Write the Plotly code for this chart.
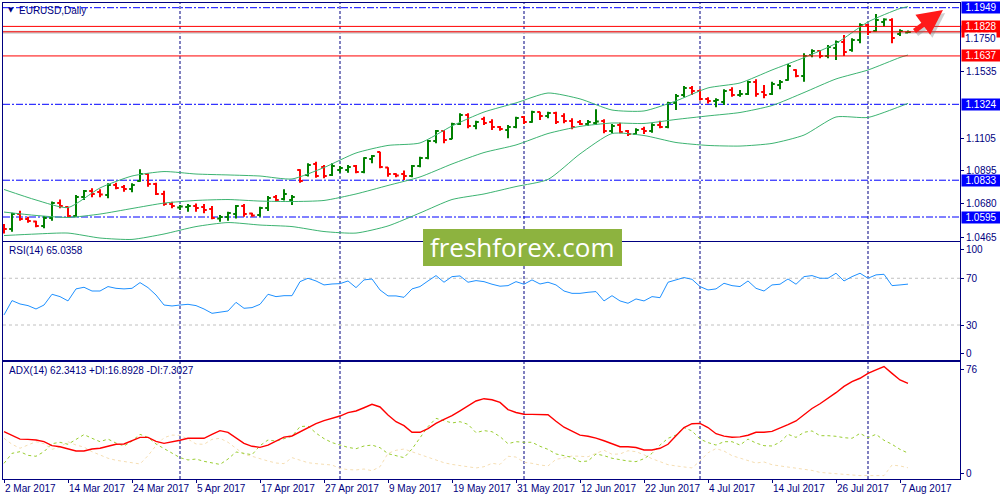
import plotly.graph_objects as go
from plotly.subplots import make_subplots
import pandas as pd

# trading days on the chart (2 Mar 2017 .. 8 Aug 2017)
dates = pd.bdate_range("2017-03-02", "2017-08-08")
days = [d.strftime("%Y-%m-%d") for d in dates]

opens = [
    1.0537, 1.0517, 1.0614, 1.0582, 1.0566, 1.0537, 1.0588, 1.0685, 1.0660, 1.0601,
    1.0724, 1.0763, 1.0757, 1.0737, 1.0802, 1.0789, 1.0776, 1.0828, 1.0873, 1.0808,
    1.0744, 1.0679, 1.0656, 1.0660, 1.0666, 1.0660, 1.0647, 1.0585, 1.0595, 1.0614,
    1.0666, 1.0618, 1.0608, 1.0653, 1.0724, 1.0711, 1.0705, 1.0899, 1.0867, 1.0938,
    1.0918, 1.0867, 1.0899, 1.0899, 1.0925, 1.0886, 1.0970, 1.1016, 1.0915, 1.0873,
    1.0873, 1.0860, 1.0925, 1.0977, 1.1087, 1.1151, 1.1100, 1.1197, 1.1255, 1.1184,
    1.1229, 1.1210, 1.1177, 1.1158, 1.1177, 1.1242, 1.1210, 1.1274, 1.1249, 1.1268,
    1.1249, 1.1216, 1.1210, 1.1197, 1.1203, 1.1216, 1.1151, 1.1190, 1.1151, 1.1132,
    1.1164, 1.1151, 1.1190, 1.1177, 1.1333, 1.1384, 1.1430, 1.1410, 1.1359, 1.1346,
    1.1339, 1.1417, 1.1384, 1.1391, 1.1468, 1.1404, 1.1391, 1.1449, 1.1481, 1.1546,
    1.1507, 1.1643, 1.1669, 1.1637, 1.1688, 1.1727, 1.1675, 1.1740, 1.1837, 1.1798,
    1.1857, 1.1869, 1.1779, 1.1788,
]
highs = [
    1.0550, 1.0623, 1.0636, 1.0597, 1.0571, 1.0601, 1.0696, 1.0709, 1.0663, 1.0737,
    1.0770, 1.0781, 1.0774, 1.0813, 1.0817, 1.0802, 1.0813, 1.0904, 1.0878, 1.0817,
    1.0765, 1.0694, 1.0672, 1.0679, 1.0683, 1.0679, 1.0666, 1.0608, 1.0629, 1.0672,
    1.0679, 1.0623, 1.0661, 1.0731, 1.0737, 1.0774, 1.0737, 1.0904, 1.0942, 1.0953,
    1.0931, 1.0942, 1.0925, 1.0931, 1.0931, 1.0981, 1.0996, 1.1017, 1.0917, 1.0878,
    1.0895, 1.0931, 1.0985, 1.1093, 1.1158, 1.1158, 1.1205, 1.1266, 1.1266, 1.1218,
    1.1244, 1.1227, 1.1184, 1.1190, 1.1244, 1.1249, 1.1283, 1.1276, 1.1276, 1.1276,
    1.1266, 1.1234, 1.1223, 1.1223, 1.1292, 1.1227, 1.1197, 1.1205, 1.1158, 1.1169,
    1.1179, 1.1201, 1.1218, 1.1341, 1.1391, 1.1443, 1.1443, 1.1421, 1.1370, 1.1363,
    1.1421, 1.1434, 1.1417, 1.1477, 1.1486, 1.1449, 1.1470, 1.1481, 1.1585, 1.1551,
    1.1654, 1.1680, 1.1675, 1.1708, 1.1736, 1.1772, 1.1751, 1.1848, 1.1844, 1.1908,
    1.1880, 1.1880, 1.1809, 1.1802,
]
lows = [
    1.0489, 1.0500, 1.0571, 1.0558, 1.0528, 1.0522, 1.0571, 1.0651, 1.0593, 1.0593,
    1.0705, 1.0722, 1.0722, 1.0716, 1.0774, 1.0759, 1.0755, 1.0823, 1.0791, 1.0737,
    1.0668, 1.0651, 1.0640, 1.0629, 1.0629, 1.0619, 1.0580, 1.0564, 1.0571, 1.0586,
    1.0597, 1.0597, 1.0597, 1.0634, 1.0694, 1.0702, 1.0672, 1.0817, 1.0857, 1.0849,
    1.0845, 1.0860, 1.0882, 1.0882, 1.0878, 1.0878, 1.0942, 1.0910, 1.0856, 1.0852,
    1.0834, 1.0852, 1.0917, 1.0968, 1.1072, 1.1072, 1.1098, 1.1190, 1.1169, 1.1162,
    1.1190, 1.1158, 1.1153, 1.1104, 1.1169, 1.1197, 1.1205, 1.1223, 1.1234, 1.1197,
    1.1201, 1.1162, 1.1190, 1.1184, 1.1190, 1.1137, 1.1137, 1.1137, 1.1119, 1.1126,
    1.1132, 1.1140, 1.1169, 1.1169, 1.1287, 1.1370, 1.1384, 1.1348, 1.1330, 1.1305,
    1.1320, 1.1373, 1.1373, 1.1384, 1.1373, 1.1363, 1.1384, 1.1421, 1.1477, 1.1499,
    1.1470, 1.1628, 1.1622, 1.1622, 1.1611, 1.1637, 1.1664, 1.1719, 1.1772, 1.1794,
    1.1826, 1.1719, 1.1766, 1.1786,
]
closes = [
    1.0517, 1.0614, 1.0582, 1.0569, 1.0537, 1.0588, 1.0685, 1.0666, 1.0601, 1.0724,
    1.0763, 1.0744, 1.0741, 1.0802, 1.0783, 1.0776, 1.0802, 1.0873, 1.0808, 1.0744,
    1.0679, 1.0666, 1.0663, 1.0666, 1.0653, 1.0640, 1.0588, 1.0595, 1.0621, 1.0666,
    1.0614, 1.0605, 1.0653, 1.0718, 1.0705, 1.0744, 1.0724, 1.0828, 1.0931, 1.0860,
    1.0860, 1.0925, 1.0912, 1.0918, 1.0886, 1.0977, 1.0990, 1.0918, 1.0873, 1.0864,
    1.0860, 1.0925, 1.0977, 1.1087, 1.1151, 1.1093, 1.1197, 1.1255, 1.1184, 1.1210,
    1.1203, 1.1177, 1.1164, 1.1177, 1.1236, 1.1210, 1.1274, 1.1249, 1.1268, 1.1210,
    1.1216, 1.1177, 1.1197, 1.1210, 1.1213, 1.1151, 1.1184, 1.1145, 1.1132, 1.1158,
    1.1151, 1.1190, 1.1177, 1.1333, 1.1378, 1.1430, 1.1410, 1.1359, 1.1346, 1.1352,
    1.1410, 1.1384, 1.1391, 1.1468, 1.1391, 1.1384, 1.1456, 1.1468, 1.1572, 1.1507,
    1.1637, 1.1669, 1.1637, 1.1695, 1.1727, 1.1663, 1.1740, 1.1837, 1.1792, 1.1869,
    1.1873, 1.1753, 1.1798, 1.1791,
]

# Bollinger bands
bb_bars = list(range(0, 113, 4)) + [113]
bb_upper = [1.0773, 1.0705, 1.0656, 1.0783, 1.0860, 1.0889, 1.0873, 1.0867, 1.0860, 1.0841,
            1.0915, 1.1009, 1.1058, 1.1074, 1.1184, 1.1274, 1.1333, 1.1397, 1.1359, 1.1287,
            1.1281, 1.1346, 1.1430, 1.1462, 1.1546, 1.1626, 1.1718, 1.1857, 1.1944, 1.1956]
bb_mid = [1.0627, 1.0605, 1.0592, 1.0614, 1.0650, 1.0685, 1.0702, 1.0708, 1.0698, 1.0695,
          1.0702, 1.0744, 1.0799, 1.0854, 1.0938, 1.1012, 1.1061, 1.1135, 1.1181, 1.1203,
          1.1200, 1.1226, 1.1249, 1.1271, 1.1316, 1.1400, 1.1488, 1.1546, 1.1627, 1.1643]
bb_lower = [1.0475, 1.0485, 1.0491, 1.0459, 1.0450, 1.0485, 1.0533, 1.0559, 1.0543, 1.0533,
            1.0501, 1.0491, 1.0537, 1.0621, 1.0708, 1.0744, 1.0792, 1.0838, 1.1003, 1.1135,
            1.1122, 1.1077, 1.1058, 1.1054, 1.1071, 1.1125, 1.1242, 1.1239, 1.1310, 1.1330]

rsi = [
    38.6, 50.9, 48.0, 46.6, 43.7, 47.1, 56.3, 54.3, 50.6, 60.9,
    62.3, 59.1, 59.1, 62.9, 61.4, 60.9, 61.4, 66.3, 62.0, 55.7,
    47.1, 46.3, 47.1, 47.7, 46.6, 43.7, 40.0, 40.9, 42.0, 49.4,
    44.3, 44.9, 47.7, 56.3, 54.3, 55.1, 55.1, 67.1, 70.0, 67.7,
    64.3, 65.1, 65.4, 67.7, 62.0, 68.6, 69.4, 60.0, 54.9, 54.9,
    53.7, 60.9, 62.9, 67.7, 72.3, 66.6, 71.4, 72.0, 66.6, 68.0,
    67.1, 64.9, 63.2, 63.7, 67.1, 64.9, 68.6, 65.1, 66.6, 64.3,
    59.1, 57.1, 57.1, 58.0, 58.6, 50.6, 55.1, 50.6, 48.6, 52.3,
    50.6, 54.3, 53.4, 66.6, 68.6, 70.6, 69.1, 62.9, 60.0, 60.9,
    65.7, 63.7, 62.9, 67.7, 61.4, 59.1, 64.3, 64.9, 69.4, 64.9,
    71.4, 72.3, 70.0, 70.0, 74.3, 67.7, 71.4, 74.3, 70.0, 72.9,
    73.4, 63.7, 64.3, 65.0,
]

adx = [
    30.8, 28.4, 26.0, 25.8, 25.4, 24.3, 21.7, 21.0, 19.7, 18.2,
    18.2, 19.5, 20.0, 21.5, 22.6, 22.8, 24.7, 27.1, 27.1, 24.5,
    23.2, 24.1, 25.2, 26.5, 26.5, 26.5, 29.1, 31.5, 30.4, 26.9,
    23.2, 21.3, 20.6, 22.1, 24.5, 27.3, 28.0, 30.8, 33.6, 36.0,
    38.0, 39.3, 41.0, 43.2, 44.3, 46.4, 48.6, 46.9, 41.7, 37.3,
    34.7, 30.4, 30.4, 32.8, 36.2, 38.8, 41.2, 44.3, 47.7, 50.8,
    52.3, 51.6, 49.9, 45.2, 43.3, 42.2, 42.1, 42.1, 41.8, 37.6,
    33.7, 31.2, 28.6, 27.8, 26.6, 24.9, 22.9, 21.0, 21.0, 20.5,
    18.9, 18.9, 20.0, 22.6, 28.2, 33.5, 36.0, 36.2, 33.5, 29.5,
    27.9, 27.2, 27.4, 28.5, 30.4, 30.4, 31.0, 33.0, 35.4, 37.8,
    41.7, 45.9, 49.0, 52.4, 56.2, 60.3, 63.4, 65.6, 68.8, 71.0,
    73.2, 68.8, 64.5, 62.3,
]
plus_di = [
    10.2, 16.7, 17.8, 15.4, 14.8, 17.8, 23.0, 23.9, 22.6, 26.0,
    28.9, 26.5, 24.3, 26.0, 23.4, 21.5, 24.7, 29.1, 27.1, 22.8,
    19.7, 16.5, 13.9, 12.4, 13.0, 11.5, 10.4, 9.5, 13.0, 17.6,
    16.7, 15.8, 21.7, 25.4, 24.7, 26.3, 27.8, 34.1, 34.5, 29.9,
    26.3, 23.7, 21.9, 20.6, 19.7, 21.5, 22.1, 20.4, 16.5, 15.0,
    13.9, 19.5, 26.5, 34.1, 39.5, 37.8, 36.5, 37.3, 35.6, 30.2,
    31.5, 30.8, 27.6, 23.0, 24.3, 23.9, 23.9, 21.3, 19.3, 16.3,
    15.4, 14.1, 11.3, 11.7, 16.3, 15.2, 13.5, 12.4, 11.7, 11.3,
    13.2, 16.7, 22.1, 26.5, 28.6, 33.4, 31.3, 26.0, 23.7, 22.1,
    24.3, 24.3, 22.1, 26.0, 23.4, 21.7, 21.5, 23.9, 29.1, 27.1,
    30.4, 31.3, 28.2, 28.2, 27.8, 26.9, 26.5, 29.7, 26.9, 29.1,
    25.2, 22.6, 19.3, 16.9,
]
minus_di = [
    26.5, 22.6, 20.0, 21.9, 24.3, 23.0, 19.3, 20.8, 24.3, 22.1,
    20.8, 17.8, 15.6, 13.5, 12.2, 11.5, 10.9, 9.8, 15.2, 21.7,
    26.9, 28.6, 28.4, 26.0, 22.8, 22.6, 25.8, 26.5, 23.9, 20.0,
    16.1, 14.8, 13.0, 11.7, 10.4, 10.0, 13.9, 12.2, 10.6, 10.0,
    9.5, 9.1, 6.9, 6.1, 5.9, 6.5, 5.4, 8.0, 16.7, 18.7,
    19.5, 17.8, 15.6, 13.9, 12.4, 10.6, 9.5, 8.7, 7.8, 7.2,
    8.0, 10.2, 9.5, 14.8, 14.3, 10.9, 10.2, 9.1, 8.5, 12.8,
    13.7, 15.0, 14.8, 14.5, 16.7, 18.7, 16.1, 16.3, 18.4, 17.8,
    15.8, 13.2, 11.3, 9.3, 8.5, 7.6, 7.2, 11.7, 17.1, 19.8,
    18.2, 15.2, 13.5, 11.7, 10.4, 11.1, 9.3, 8.5, 7.8, 6.9,
    6.3, 5.6, 4.3, 3.9, 3.5, 2.8, 2.4, 2.2, 2.2, 2.2,
    2.2, 9.1, 8.5, 7.3,
]

blue_levels = [1.1949, 1.1324, 1.0833, 1.0595]
red_levels = [1.1793, 1.1828, 1.1637]
bid = 1.1790
price_ticks = [1.1535, 1.1105, 1.0895, 1.0680, 1.0465]

NAVY = "#000080"
FONT = "Liberation Sans"

fig = make_subplots(rows=3, cols=1, shared_xaxes=True, vertical_spacing=0.004)

fig.add_trace(go.Ohlc(
    x=days, open=opens, high=highs, low=lows, close=closes,
    increasing=dict(line=dict(color="#008000", width=2)),
    decreasing=dict(line=dict(color="#ff0000", width=2)),
    tickwidth=0.35, showlegend=False, hoverinfo="skip",
), row=1, col=1)

bb_x = [days[i] for i in bb_bars]
for band in (bb_upper, bb_mid, bb_lower):
    fig.add_trace(go.Scatter(x=bb_x, y=band, mode="lines",
                             line=dict(color="#3cb371", width=1, shape="spline", smoothing=0.6),
                             showlegend=False, hoverinfo="skip"), row=1, col=1)

fig.add_trace(go.Scatter(x=days, y=rsi, mode="lines", line=dict(color="#1e90ff", width=1),
                         showlegend=False, hoverinfo="skip"), row=2, col=1)

fig.add_trace(go.Scatter(x=days, y=minus_di, mode="lines",
                         line=dict(color="#f5deb3", width=1, dash="3px,3px"),
                         showlegend=False, hoverinfo="skip"), row=3, col=1)
fig.add_trace(go.Scatter(x=days, y=plus_di, mode="lines",
                         line=dict(color="#9acd32", width=1, dash="3px,3px"),
                         showlegend=False, hoverinfo="skip"), row=3, col=1)
fig.add_trace(go.Scatter(x=days, y=adx, mode="lines", line=dict(color="#ff0000", width=1.4),
                         showlegend=False, hoverinfo="skip"), row=3, col=1)

# month separators
for i in range(1, len(dates)):
    if dates[i].month != dates[i - 1].month:
        fig.add_shape(type="line", xref="x", yref="paper", x0=days[i], x1=days[i], y0=0, y1=1,
                      line=dict(color=NAVY, width=1, dash="3px,2px"), layer="below")

for lv in blue_levels:
    fig.add_shape(type="line", xref="paper", yref="y", x0=0, x1=1, y0=lv, y1=lv,
                  line=dict(color="#0000ff", width=1, dash="7px,2px,2px,2px"), layer="below")
fig.add_shape(type="line", xref="paper", yref="y", x0=0, x1=1, y0=bid, y1=bid,
              line=dict(color="#d0d0d0", width=3), layer="below")
for lv in red_levels:
    fig.add_shape(type="line", xref="paper", yref="y", x0=0, x1=1, y0=lv, y1=lv,
                  line=dict(color="#ff0000", width=1))

for lv in (70, 30):
    fig.add_shape(type="line", xref="paper", yref="y2", x0=0, x1=1, y0=lv, y1=lv,
                  line=dict(color="#c0c0c0", width=1, dash="3px,3px"), layer="below")

# watermark
fig.add_shape(type="rect", xref="paper", yref="paper", x0=0.4389, x1=0.6468, y0=0.4475, y1=0.5252,
              fillcolor="#8db33f", line=dict(width=0), layer="above")
fig.add_annotation(text="freshforex.com", xref="paper", yref="paper", x=0.5428, y=0.4874,
                   showarrow=False, font=dict(family="Open Sans", size=26, color="white"))

# price boxes on the right axis
def price_box(price, color):
    fig.add_annotation(text=f"{price:.4f}", xref="paper", yref="y", x=1, y=price,
                       xanchor="left", yanchor="middle", xshift=1, showarrow=False,
                       width=38, height=11, borderpad=0, bgcolor=color,
                       font=dict(family=FONT, size=10, color="white"))

price_box(1.1793, "#ff0000")
price_box(1.1828, "#ff0000")
price_box(1.1637, "#ff0000")
for lv in blue_levels:
    price_box(lv, "#0000ff")
fig.add_annotation(text="1.1750", xref="paper", yref="y", x=1, y=1.1750, xanchor="left",
                   yanchor="middle", xshift=4, showarrow=False, bgcolor="white", borderpad=0,
                   font=dict(family=FONT, size=10, color=NAVY))

# trend arrow (with a soft shadow)
fig.add_annotation(xref="paper", yref="paper", x=0.9845, y=0.9790, ax=-30, ay=22,
                   showarrow=True, arrowhead=2, arrowsize=1, arrowwidth=5,
                   arrowcolor="rgba(120,120,120,0.35)", text="")
fig.add_annotation(xref="paper", yref="paper", x=0.9822, y=0.9853, ax=-30, ay=22,
                   showarrow=True, arrowhead=2, arrowsize=1, arrowwidth=5,
                   arrowcolor="#ff1a1a", text="")

# panel captions
fig.add_annotation(text="▼", xref="paper", yref="paper", x=0.003, y=0.985, xanchor="left",
                   yanchor="middle", showarrow=False, font=dict(family="DejaVu Sans", size=7, color=NAVY))
fig.add_annotation(text="EURUSD,Daily", xref="paper", yref="paper", x=0.0146, y=0.9832,
                   xanchor="left", yanchor="middle", showarrow=False,
                   font=dict(family=FONT, size=10, color=NAVY))
fig.add_annotation(text="RSI(14) 65.0358", xref="paper", yref="paper", x=0.004, y=0.4790,
                   xanchor="left", yanchor="middle", showarrow=False,
                   font=dict(family=FONT, size=10, color=NAVY))
fig.add_annotation(text="ADX(14) 62.3413 +DI:16.8928 -DI:7.3027", xref="paper", yref="paper",
                   x=0.004, y=0.2269, xanchor="left", yanchor="middle", showarrow=False,
                   font=dict(family=FONT, size=10, color=NAVY))

tick_days = days[::8]
tick_text = [f"{d.day} {d.strftime('%b %Y')}" for d in dates[::8]]

axis_common = dict(showline=True, linecolor=NAVY, linewidth=1, mirror=True,
                   showgrid=False, zeroline=False)
for n in ("xaxis", "xaxis2", "xaxis3"):
    fig.layout[n].update(type="category", range=[-0.125, 119.5], **axis_common)
fig.layout.xaxis.update(rangeslider=dict(visible=False), showticklabels=False, ticks="")
fig.layout.xaxis2.update(showticklabels=False, ticks="")
fig.layout.xaxis3.update(tickmode="array", tickvals=tick_days, ticktext=tick_text,
                         ticks="outside", ticklen=3, tickcolor=NAVY, tickangle=0,
                         ticklabelposition="outside right",
                         tickfont=dict(family=FONT, size=10, color=NAVY))

yfont = dict(family=FONT, size=10, color=NAVY)
fig.layout.yaxis.update(domain=[0.501, 1.0], range=[1.04428, 1.19794], side="right",
                        tickmode="array", tickvals=price_ticks, ticktext=[f"{v:.4f}" for v in price_ticks],
                        ticks="outside", ticklen=3, tickcolor=NAVY, tickfont=yfont, **axis_common)
fig.layout.yaxis2.update(domain=[0.2494, 0.4973], range=[-0.2, 100.8], side="right",
                         tickmode="array", tickvals=[94.5, 70, 30, 5.8], ticktext=["100", "70", "30", "0"],
                         ticks="outside", ticklen=3, tickcolor=NAVY, tickfont=yfont, **axis_common)
fig.layout.yaxis3.update(domain=[0.0, 0.2452], range=[0, 76], side="right",
                         tickmode="array", tickvals=[71, 3.9], ticktext=["76", "0"],
                         ticks="outside", ticklen=3, tickcolor=NAVY, tickfont=yfont, **axis_common)

fig.update_layout(width=1000, height=500, margin=dict(l=3, r=40, t=3, b=21),
                  paper_bgcolor="white", plot_bgcolor="white", showlegend=False,
                  font=dict(family=FONT, size=10, color=NAVY))

# the page body has a default 8px margin; drop it so the figure sits at the window origin
fig.write_html("out.html", config={"displayModeBar": False},
               post_script="document.body.style.margin='0px';")
